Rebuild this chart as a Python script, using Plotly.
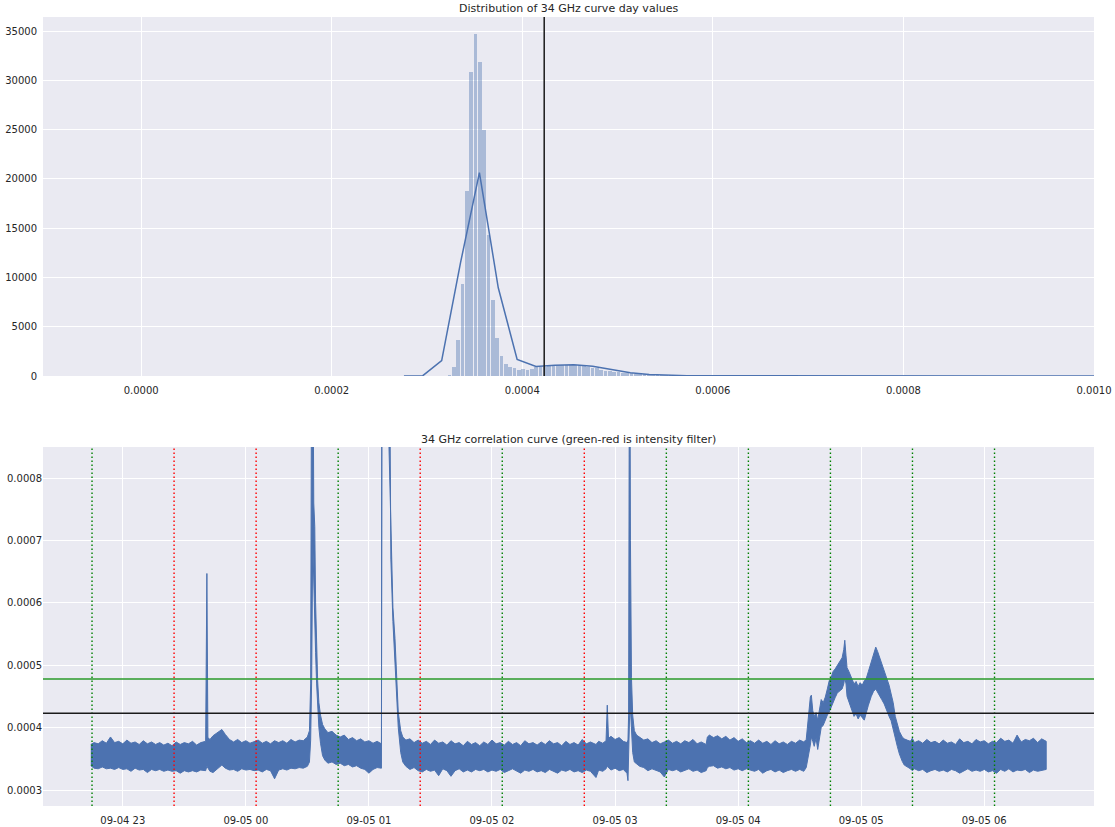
import numpy as np
import pandas as pd
import plotly.graph_objects as go

# ---------------- data: histogram of day values ----------------
hist_first_center = 0.0003235
hist_bin_width = 4.55e-6
hist_counts = [100, 950, 3650, 9350, 18800, 30900, 34700, 31900, 25000, 14300,
               7700, 3900, 2000, 1200, 950, 800, 620, 700, 620, 750,
               870, 950, 960, 1010, 1080, 1120, 1150, 1150, 1150, 1120,
               1080, 1010, 950, 850, 780, 610, 540, 470, 400, 370,
               340, 300, 270, 240, 200, 200, 170, 150, 130, 110,
               90, 80, 70, 60, 50, 40, 30, 25, 20, 15]

kde_x = [0.0002758, 0.0002956, 0.0003154, 0.0003352, 0.0003550,
         0.0003748, 0.0003946, 0.0004144, 0.0004342, 0.0004540, 0.0004738,
         0.0004936, 0.0005134, 0.0005332, 0.0005530, 0.0005728, 0.0005926,
         0.0006250, 0.0006720, 0.0006920, 0.0007120, 0.0007500, 0.0008500,
         0.0010000]
kde_y = [0, 30, 1560, 11500, 20650, 8950, 1690, 960, 1080, 1150, 1000,
         650, 330, 150, 70, 35, 20, 15, 40, 50, 40, 15, 5, 0]

threshold = 0.000423
upper_threshold = 0.000478

# ---------------- data: correlation curve (envelope knots) ----------------
# minutes after 2019-09-04 22:00 ; envelope values in units of 1e-6
t_min = [44.4, 46, 48, 50, 52, 54, 56, 58, 60, 62, 64, 66, 68, 70, 72, 74, 76, 78, 80, 82,
         84, 86, 88, 90, 92, 94, 96, 98, 100.4, 101.0, 101.5, 102.5, 104, 106, 108.3, 110,
         112, 114, 116, 118, 120, 122, 124, 126, 128, 130, 132, 134, 136, 138, 140, 142,
         144, 146, 148, 150, 151.0, 151.6, 152.1, 152.6, 153.1, 153.6, 154.0, 154.5, 155.0,
         155.6, 156.4, 157.4, 158.5, 160, 162, 164, 166, 168, 170, 172, 174, 176, 178, 180,
         182, 184, 186.1, 186.5, 189.2, 189.4, 190.7, 191.7, 192.7, 193.3, 194.3, 195.5,
         196.5, 198, 200, 202, 204, 206, 208, 210, 212, 214, 216, 218, 220, 222, 224, 226,
         228, 230, 232, 234, 236, 238, 240, 242, 244, 246, 248, 250, 252, 254, 256, 258,
         260, 262, 264, 266, 268, 270, 272, 274, 276, 278, 280, 282, 284, 286, 288, 290.7,
         292, 294, 295.6, 296.2, 296.8, 298, 300, 302, 304, 305.8, 306.3, 306.6, 307.1,
         307.5, 308.0, 308.6, 309.4, 310.5, 312, 314, 316, 318, 320, 322, 324, 326, 328,
         330, 332, 334, 336, 338, 340, 342, 344.4, 345, 346, 348, 350, 352, 354, 356, 358,
         360, 362, 364, 366, 368, 370, 372, 374, 376, 378, 380, 382, 384, 386, 388, 390,
         392, 393.2, 394.0, 394.6, 395.2, 395.7, 396.4, 397.1, 398, 398.8, 399.5, 400.5,
         401.5, 402.5, 403.5, 404.4, 405.3, 406.3, 407.3, 408.3, 409.2, 410.7, 411.5,
         412.0, 412.6, 413.1, 414, 415, 415.6, 416.5, 417.5, 418.5, 419.5, 420.5, 421.5,
         422.4, 423.5, 424.9, 426.0, 427.1, 428.0, 428.8, 430, 431.2, 432.5, 433.6, 434.6,
         435.6, 436.6, 437.6, 438.6, 440.0, 441, 442.4, 444, 444.9, 446, 448, 450, 452,
         454, 456, 458, 460, 462, 464, 466, 468, 470, 472, 474, 476, 478, 480, 482, 484,
         486, 488, 490, 492, 494, 496, 498, 500, 502, 504, 506, 508, 510.2]
upper_u = [373, 376, 374, 379, 375, 385, 376, 378, 374, 380, 375, 377, 373, 379, 374, 377, 373, 376, 372, 375,
           371, 377, 373, 376, 374, 378, 372, 376, 378, 647, 384, 381, 387, 391, 397, 389,
           381, 377, 381, 376, 379, 375, 377, 380, 375, 378, 374, 379, 376, 379, 375, 381,
           377, 380, 379, 385, 395, 470, 1100, 1100, 760, 722, 600, 520, 475,
           440, 420, 405, 398, 392, 394, 388, 385, 388, 381, 384, 379, 382, 377, 379,
           375, 378, 374, 1500, 1500, 900, 700, 593, 543, 490, 425, 395,
           385, 380, 382, 376, 380, 375, 378, 373, 380, 375, 377, 372, 379, 374, 376, 371,
           378, 373, 376, 371, 377, 373, 380, 374, 376, 372, 378, 373, 376, 371, 379, 374,
           376, 372, 377, 373, 379, 374, 376, 371, 378, 373, 376, 372, 381, 374, 377, 373,
           378, 375, 379, 436, 383, 386, 381, 384, 378, 376, 380, 420, 1200,
           700, 480, 420, 395, 388, 384, 380, 382, 376, 379, 374, 377, 380, 375,
           378, 374, 379, 376, 381, 374, 377, 373, 385, 388, 384, 387, 382, 386, 380, 384,
           378, 382, 376, 379, 375, 380, 375, 378, 373, 379, 374, 377, 373, 378, 375, 380,
           377, 381, 410, 432, 449, 452, 427, 418, 424, 412, 428, 445,
           440, 449, 462, 475, 480, 490, 494, 500, 505, 512, 525,
           540, 515, 496, 490, 482, 475, 470, 474, 466, 472, 468, 475,
           478, 490, 505, 518, 529, 522, 514, 502, 490, 478, 468, 454,
           440, 418, 405, 394, 385, 382, 380, 378, 383, 376, 379, 375, 381,
           376, 378, 374, 380, 375, 377, 373, 382, 376, 378, 374, 381, 377, 379, 374, 378,
           376, 383, 378, 380, 375, 388, 377, 381, 379, 383, 376, 382, 378]
lower_u = [339, 335, 334, 337, 334, 335, 333, 336, 333, 334, 330, 335, 332, 333, 328, 333, 331, 333, 330, 332,
           330, 331, 327, 331, 329, 331, 329, 332, 331, 338, 336, 330, 328, 334, 340, 335,
           332, 333, 330, 334, 332, 333, 331, 332, 329, 333, 331, 318, 332, 334, 332, 335,
           334, 336, 335, 338, 345, 380, 480, 700, 640, 580, 520, 470, 430,
           400, 375, 355, 348, 343, 345, 341, 343, 339, 341, 337, 339, 335, 333, 327,
           333, 336, 335, 1500, 1500, 860, 670, 570, 515, 465, 400, 360,
           345, 338, 333, 336, 331, 329, 333, 330, 332, 323, 334, 331, 322, 331, 334, 329,
           332, 329, 333, 331, 333, 329, 332, 330, 333, 328, 331, 334, 330, 327, 332, 330,
           333, 329, 331, 328, 333, 330, 327, 332, 330, 333, 329, 331, 328, 332, 330, 320,
           332, 330, 334, 338, 335, 332, 335, 331, 333, 327, 315, 330, 420,
           430, 400, 360, 345, 342, 338, 336, 331, 334, 332, 329, 321, 333, 331,
           333, 329, 331, 334, 330, 332, 328, 331, 336, 338, 339, 335, 337, 334, 336, 332,
           334, 331, 334, 332, 330, 333, 327, 331, 333, 329, 332, 328, 331, 333, 330, 333,
           330, 336, 350, 362, 372, 385, 378, 370, 383, 365, 375, 400,
           404, 411, 420, 425, 430, 440, 448, 455, 458, 462, 470,
           480, 470, 450, 440, 432, 427, 418, 422, 414, 420, 416, 412,
           424, 436, 450, 458, 462, 458, 452, 445, 438, 428, 418, 411,
           398, 385, 370, 358, 346, 340, 337, 334, 331, 334, 331, 333, 328,
           331, 333, 330, 332, 329, 333, 331, 327, 331, 334, 330, 332, 330, 333, 329, 331,
           327, 333, 330, 334, 329, 332, 331, 333, 328, 332, 330, 331, 333]

filter_times = ["2019-09-04 22:45", "2019-09-04 23:25", "2019-09-05 00:05", "2019-09-05 00:45",
                "2019-09-05 01:25", "2019-09-05 02:05", "2019-09-05 02:45", "2019-09-05 03:25",
                "2019-09-05 04:05", "2019-09-05 04:45", "2019-09-05 05:25", "2019-09-05 06:05"]
filter_colors = ["green", "red", "red", "green", "red", "green", "red", "green",
                 "green", "green", "green", "green"]

assert len(t_min) == len(upper_u) == len(lower_u), (len(t_min), len(upper_u), len(lower_u))
assert len(kde_x) == len(kde_y)

# ---------------- build figure ----------------
BLUE = "#4c72b0"
BG = "#eaeaf2"
TXT = "#262626"
W, H = 1115, 827

base = pd.Timestamp("2019-09-04 22:00")
times = base + pd.to_timedelta(np.array(t_min), unit="min")
up = np.array(upper_u) * 1e-6
lo = np.array(lower_u) * 1e-6

centers = hist_first_center + hist_bin_width * np.arange(len(hist_counts))

fig = go.Figure()
fig.add_trace(go.Bar(x=centers, y=hist_counts, width=hist_bin_width * 0.86,
                     marker=dict(color="rgba(76,114,176,0.4)", line=dict(width=0)),
                     xaxis="x", yaxis="y", showlegend=False))
fig.add_trace(go.Scatter(x=kde_x, y=kde_y, mode="lines", line=dict(color=BLUE, width=1.5),
                         xaxis="x", yaxis="y", showlegend=False))

poly_x = list(times) + list(times[::-1])
poly_y = list(up) + list(lo[::-1])
fig.add_trace(go.Scatter(x=poly_x, y=poly_y, mode="lines", fill="toself",
                         fillcolor=BLUE, line=dict(color=BLUE, width=1),
                         xaxis="x2", yaxis="y2", showlegend=False))

shapes = []
shapes.append(dict(type="line", xref="x", yref="y domain", x0=threshold, x1=threshold,
                   y0=0, y1=1, line=dict(color="#1a1a1a", width=1.5), layer="above"))
for ft, fc in zip(filter_times, filter_colors):
    shapes.append(dict(type="line", xref="x2", yref="y2 domain", x0=ft, x1=ft, y0=0, y1=1,
                       line=dict(color=fc, width=1.4, dash="1.5px,2.5px"), layer="above"))
shapes.append(dict(type="line", xref="x2 domain", yref="y2", x0=0, x1=1,
                   y0=upper_threshold, y1=upper_threshold,
                   line=dict(color="#2a9a2a", width=1.5), layer="above"))
shapes.append(dict(type="line", xref="x2 domain", yref="y2", x0=0, x1=1,
                   y0=threshold, y1=threshold,
                   line=dict(color="#1a1a1a", width=1.5), layer="above"))

xdom = [43 / W, 1094 / W]
axis_common = dict(showgrid=True, gridcolor="white", gridwidth=1, zeroline=False,
                   showline=False, tickcolor="rgba(0,0,0,0)", automargin=False,
                   tickfont=dict(family="DejaVu Sans", size=10, color=TXT))

fig.update_layout(
    width=W, height=H, margin=dict(l=0, r=0, t=0, b=0),
    paper_bgcolor="white", plot_bgcolor=BG, bargap=0,
    xaxis=dict(domain=xdom, anchor="y", range=[-0.000103, 0.001], ticks="outside", ticklen=5,
               tickvals=[0, 0.0002, 0.0004, 0.0006, 0.0008, 0.001],
               tickformat=".4f", **axis_common),
    yaxis=dict(domain=[1 - 376 / H, 1 - 17 / H], anchor="x", range=[0, 36435],
               ticks="outside", ticklen=3,
               tickvals=[0, 5000, 10000, 15000, 20000, 25000, 30000, 35000], tickformat="d",
               **axis_common),
    xaxis2=dict(domain=xdom, anchor="y2", ticks="outside", ticklen=5,
                range=[base + pd.Timedelta(minutes=21.1), base + pd.Timedelta(minutes=533.5)],
                tickformat="%m-%d %H", dtick=3600000, tick0="2019-09-04 23:00", **axis_common),
    yaxis2=dict(domain=[1 - 806 / H, 1 - 447 / H], anchor="x2", range=[0.0002744, 0.0008497],
                ticks="",
                tickvals=[0.0003, 0.0004, 0.0005, 0.0006, 0.0007, 0.0008], tickformat=".4f",
                **axis_common),
    shapes=shapes,
    annotations=[
        dict(text="Distribution of 34 GHz curve day values", xref="paper", yref="paper",
             x=(xdom[0] + xdom[1]) / 2, y=1 - 8 / H, xanchor="center", yanchor="middle",
             showarrow=False, font=dict(family="DejaVu Sans", size=11, color=TXT)),
        dict(text="34 GHz correlation curve (green-red is intensity filter)", xref="paper",
             yref="paper", x=(xdom[0] + xdom[1]) / 2, y=1 - 439 / H, xanchor="center",
             yanchor="middle", showarrow=False,
             font=dict(family="DejaVu Sans", size=11, color=TXT)),
    ],
)

fig.write_html("out.html", config={"displayModeBar": False},
               post_script="document.body.style.margin='0';document.body.style.overflow='hidden';")
